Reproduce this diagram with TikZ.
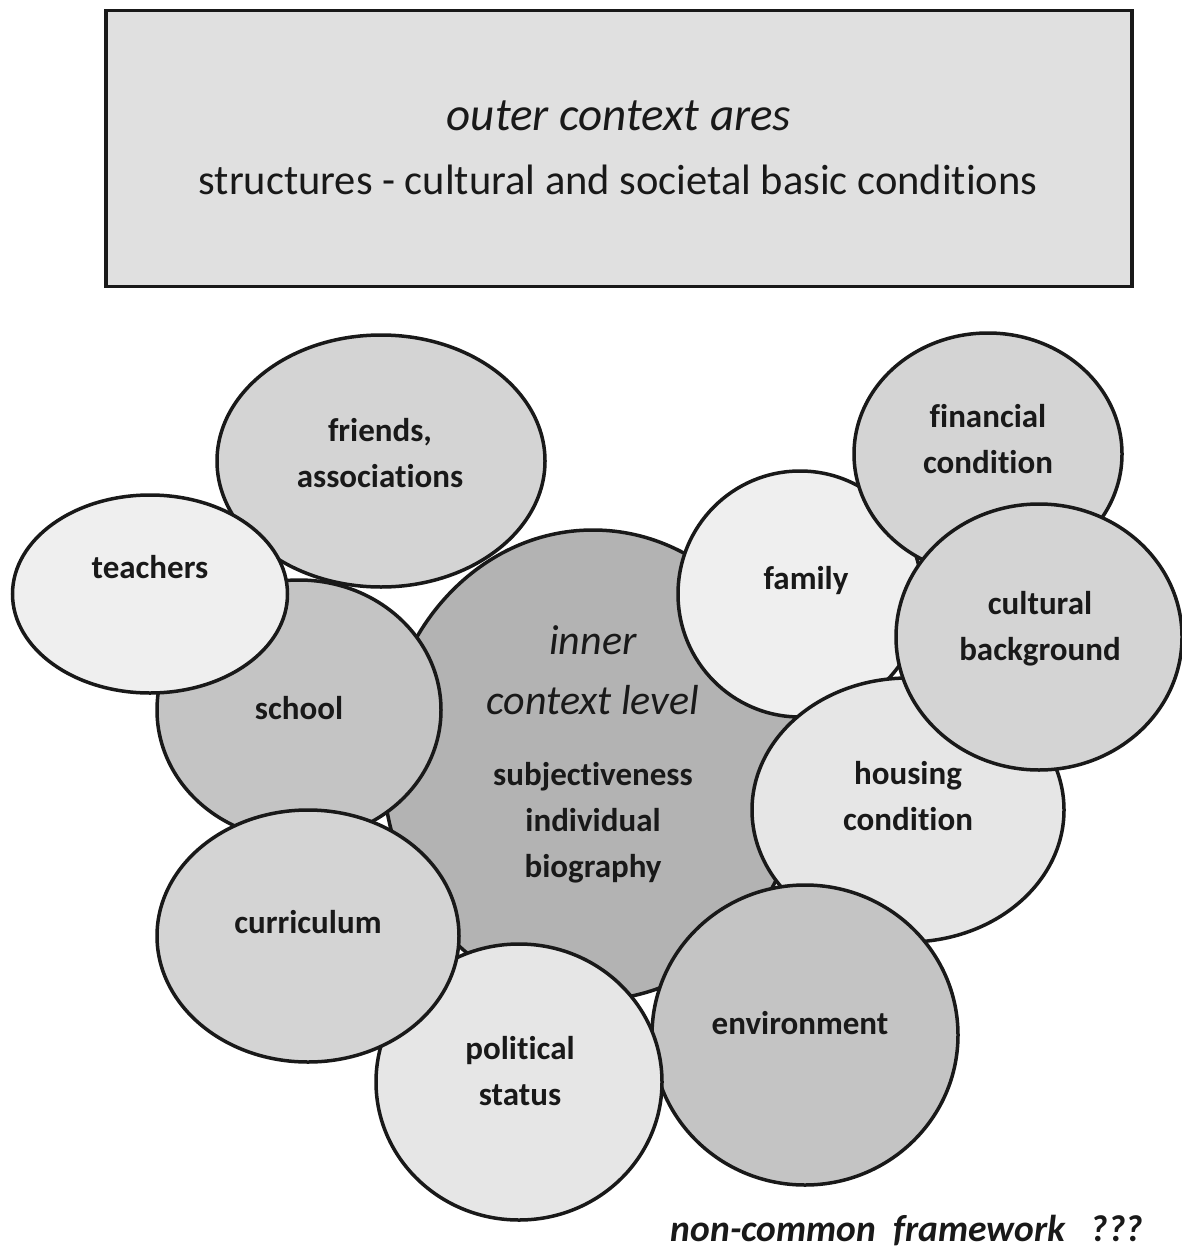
\documentclass[tikz,border=0pt]{standalone}
\usepackage{fontspec}
\setmainfont{Carlito}[Ligatures=NoCommon]
\usetikzlibrary{shapes.geometric}
\tikzset{
  bub/.style={ellipse, draw=black!90, line width=3.5pt, inner sep=0pt},
  lbl/.style={align=center, font=\fontsize{33}{46}\selectfont\bfseries, text=black!90},
}
\definecolor{cInner}{HTML}{B3B3B3}
\definecolor{cMid}{HTML}{C4C4C4}
\definecolor{cLight}{HTML}{D4D4D4}
\definecolor{cPale}{HTML}{E6E6E6}
\definecolor{cWhite}{HTML}{EFEFEF}
\definecolor{cBox}{HTML}{E0E0E0}
\begin{document}
\begin{tikzpicture}[x=1pt,y=-1pt]
\useasboundingbox (0,0) rectangle (1182,1252);
% outer box
\node[draw=black!90, line width=3.5pt, fill=cBox, minimum width=1026pt, minimum height=276pt, inner sep=0pt] (outer) at (619,148.5) {};
\node[font=\fontsize{47}{54}\selectfont\itshape, text=black!90] (outerT1) at (619,116) {outer context ares};
\node[font=\fontsize{42.5}{50}\selectfont, text=black!90] (outerT2) at (618,180) {structures - cultural and societal basic conditions};
% bubbles in z-order
\node[bub, fill=cInner, minimum width=420pt, minimum height=470pt] (inner) at (593,765) {};
\node[bub, fill=cLight, minimum width=328pt, minimum height=252pt] (friends) at (381,461) {};
\node[bub, fill=cMid, minimum width=284pt, minimum height=260pt] (school) at (299,710) {};
\node[bub, fill=cWhite, minimum width=275pt, minimum height=198pt] (teachers) at (150,594) {};
\node[bub, fill=cWhite, minimum width=244pt, minimum height=246pt] (family) at (800,594) {};
\node[bub, fill=cLight, minimum width=268pt, minimum height=242pt] (financial) at (988,454) {};
\node[bub, fill=cPale, minimum width=312pt, minimum height=264pt] (housing) at (908,810) {};
\node[bub, fill=cLight, minimum width=286pt, minimum height=266pt] (cultural) at (1039,637) {};
\node[bub, fill=cMid, minimum width=306pt, minimum height=300pt] (environment) at (805,1035) {};
\node[bub, fill=cPale, minimum width=286pt, minimum height=276pt] (political) at (519,1082) {};
\node[bub, fill=cLight, minimum width=302pt, minimum height=252pt] (curriculum) at (308,936) {};
% labels
\node[lbl] (friendsT) at (380,453) {friends,\\associations};
\node[lbl] (teachersT) at (150,567) {teachers};
\node[lbl] (schoolT) at (299,708) {school};
\node[align=center, font=\fontsize{42}{60}\selectfont\itshape, text=black!90] (innerT) at (593,670) {inner\\context level};
\node[lbl] (innerT2) at (593,823) {subjectiveness\\individual\\biography};
\node[lbl] (familyT) at (806,581) {family};
\node[lbl] (financialT) at (988,439) {financial\\condition};
\node[lbl] (culturalT) at (1040,629) {cultural\\background};
\node[lbl] (housingT) at (908,796) {housing\\condition};
\node[lbl] (curriculumT) at (308,922) {curriculum};
\node[lbl] (politicalT) at (520,1071) {political\\status};
\node[lbl] (environmentT) at (800,1023) {environment};
\node[font=\fontsize{37.5}{42}\selectfont\bfseries\itshape, text=black!90] (frameT) at (907,1231) {non-common\ \ framework\ \ \ ???};
\end{tikzpicture}
\end{document}
